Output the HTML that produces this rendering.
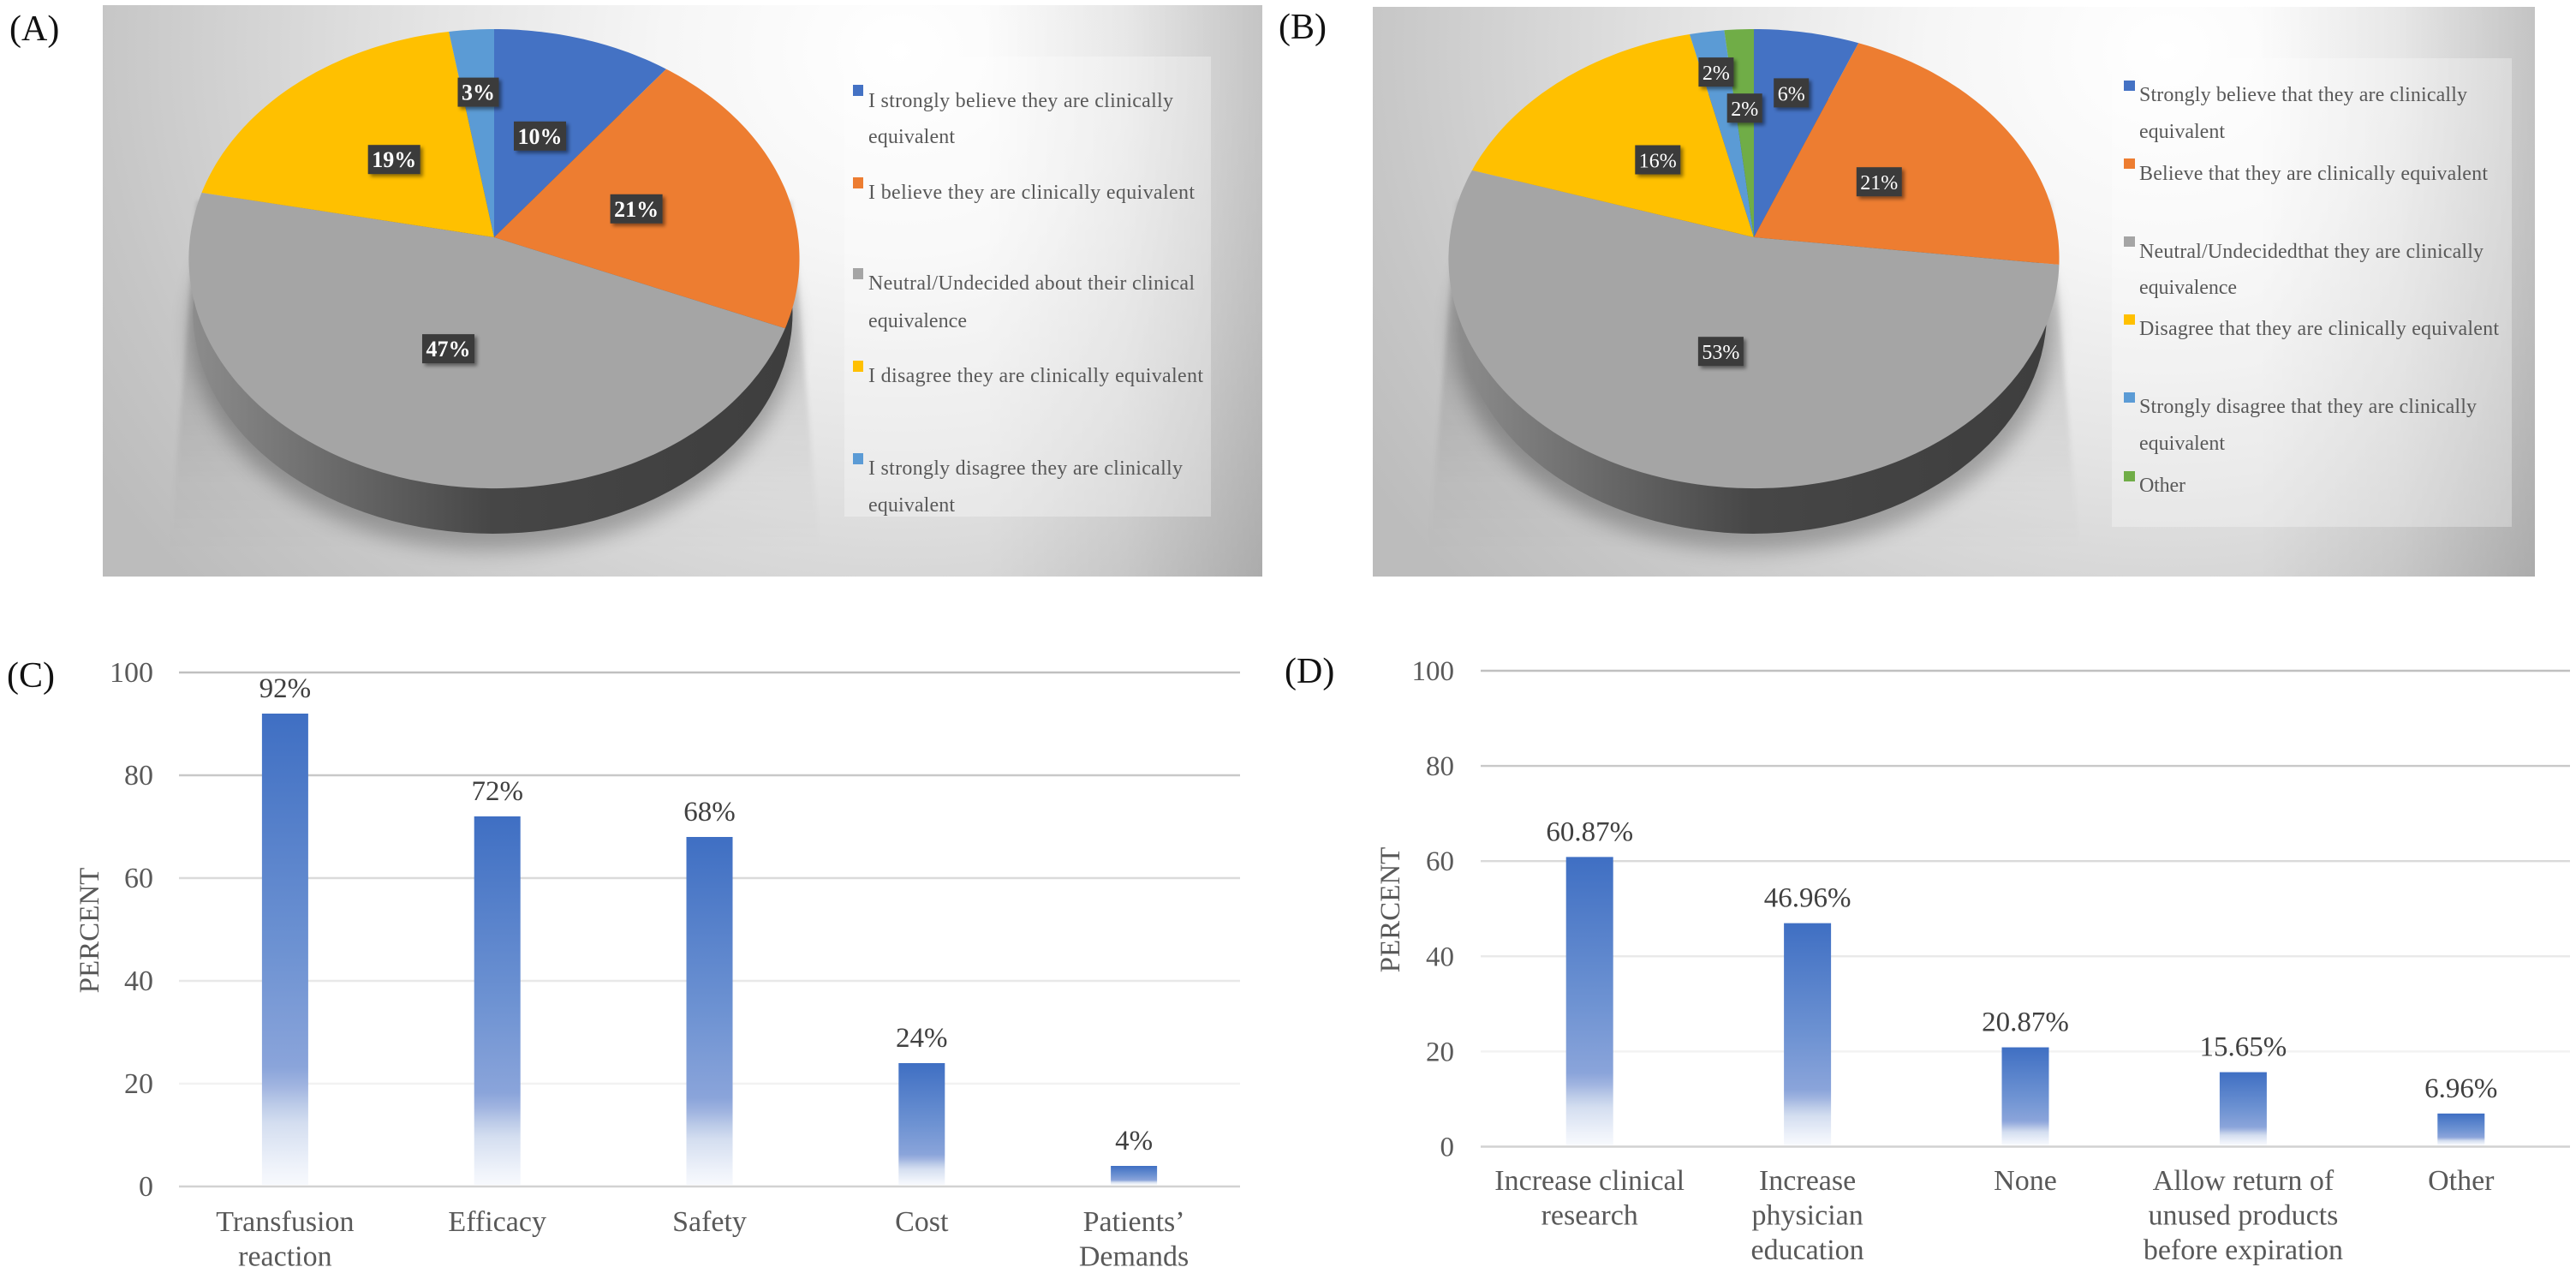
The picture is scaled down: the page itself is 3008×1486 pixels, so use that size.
<!DOCTYPE html>
<html>
<head>
<meta charset="utf-8">
<title>Survey charts</title>
<style>
html,body{margin:0;padding:0;background:#fff;}
svg{display:block;}
text{font-family:"Liberation Serif",serif;}
.legend-text{font-size:24px;fill:#595959;}
.panel-letter{font-size:42px;fill:#111;}
</style>
</head>
<body>
<svg id="chart" xmlns="http://www.w3.org/2000/svg" width="3008" height="1486" viewBox="0 0 3008 1486">
<defs>
  <radialGradient id="bg-a" gradientUnits="userSpaceOnUse" cx="0" cy="0" r="1" gradientTransform="translate(1050 60) scale(1100 950)">
    <stop offset="0" stop-color="#ffffff"/><stop offset="0.25" stop-color="#f6f6f6"/><stop offset="0.5" stop-color="#e4e4e4"/><stop offset="0.85" stop-color="#c6c6c6"/><stop offset="1" stop-color="#bcbcbc"/>
  </radialGradient>
  <radialGradient id="bg-b" gradientUnits="userSpaceOnUse" cx="0" cy="0" r="1" gradientTransform="translate(2530 60) scale(1100 950)">
    <stop offset="0" stop-color="#ffffff"/><stop offset="0.25" stop-color="#f6f6f6"/><stop offset="0.5" stop-color="#e4e4e4"/><stop offset="0.85" stop-color="#c6c6c6"/><stop offset="1" stop-color="#bcbcbc"/>
  </radialGradient>
  <linearGradient id="edge" x1="0" x2="1" y1="0" y2="0">
    <stop offset="0" stop-color="#000" stop-opacity="0"/><stop offset="0.5" stop-color="#000" stop-opacity="0.06"/><stop offset="1" stop-color="#000" stop-opacity="0.17"/>
  </linearGradient>
  <linearGradient id="side-shade" x1="0" x2="1" y1="0" y2="0">
    <stop offset="0" stop-color="#8c8c8c"/><stop offset="0.25" stop-color="#686868"/><stop offset="0.5" stop-color="#464646"/><stop offset="1" stop-color="#3e3e3e"/>
  </linearGradient>
  <linearGradient id="cast-shade" x1="0" x2="0" y1="0" y2="1">
    <stop offset="0" stop-color="#000" stop-opacity="0.18"/><stop offset="0.5" stop-color="#000" stop-opacity="0.11"/><stop offset="0.8" stop-color="#000" stop-opacity="0.03"/><stop offset="1" stop-color="#000" stop-opacity="0"/>
  </linearGradient>
  <linearGradient id="bar-fill" x1="0" x2="0" y1="0" y2="1">
    <stop offset="0" stop-color="#3f6fc3"/><stop offset="0.5" stop-color="#6d92d2"/><stop offset="0.75" stop-color="#8aa4da"/><stop offset="0.79" stop-color="#a0b4e0"/><stop offset="0.83" stop-color="#bccbe8"/><stop offset="0.87" stop-color="#d4def0"/><stop offset="0.96" stop-color="#eef2fa"/><stop offset="1" stop-color="#f7f9fd"/>
  </linearGradient>
  <filter id="soft" x="-20%" y="-20%" width="140%" height="140%"><feGaussianBlur stdDeviation="3"/></filter>
  <filter id="softer" x="-20%" y="-20%" width="140%" height="140%"><feGaussianBlur stdDeviation="12"/></filter>
  <filter id="box-shadow" x="-30%" y="-30%" width="170%" height="170%"><feDropShadow dx="3" dy="3" stdDeviation="2" flood-color="#000" flood-opacity="0.45"/></filter>
</defs>

<rect width="3008" height="1486" fill="#ffffff"/>

<g>
  <rect x="120" y="6" width="1354" height="667" fill="url(#bg-a)"/>
  <rect x="1150" y="6" width="324" height="667" fill="url(#edge)"/>
  <polygon points="230,235 924,235 957,643 198,643" fill="url(#cast-shade)" filter="url(#soft)"/>
  <ellipse cx="575" cy="385" rx="352" ry="258" fill="#000" opacity="0.26" filter="url(#softer)"/>
  <ellipse cx="575.5" cy="365" rx="350" ry="258" fill="url(#side-shade)"/>
  <g id="pie-a"></g>
  <rect x="986" y="66" width="428" height="537" fill="#ffffff" fill-opacity="0.3"/>
  <g>
    <rect x="996" y="99" width="12" height="13" fill="#4472c4"/>
    <text class="legend-text" x="1014" y="125" textLength="356">I strongly believe they are clinically</text>
    <text class="legend-text" x="1014" y="167" textLength="101">equivalent</text>
    <rect x="996" y="207" width="12" height="13" fill="#ed7d31"/>
    <text class="legend-text" x="1014" y="232" textLength="381">I believe they are clinically equivalent</text>
    <rect x="996" y="313" width="12" height="13" fill="#a5a5a5"/>
    <text class="legend-text" x="1014" y="338" textLength="381">Neutral/Undecided about their clinical</text>
    <text class="legend-text" x="1014" y="382" textLength="115">equivalence</text>
    <rect x="996" y="421" width="12" height="13" fill="#ffc000"/>
    <text class="legend-text" x="1014" y="446" textLength="391">I disagree they are clinically equivalent</text>
    <rect x="996" y="529" width="12" height="13" fill="#5b9bd5"/>
    <text class="legend-text" x="1014" y="554" textLength="367">I strongly disagree they are clinically</text>
    <text class="legend-text" x="1014" y="597" textLength="101">equivalent</text>
  </g>
</g>

<g>
  <rect x="1603" y="8" width="1357" height="665" fill="url(#bg-b)"/>
  <rect x="2636" y="8" width="324" height="665" fill="url(#edge)"/>
  <polygon points="1702,235 2394,235 2428,643 1668,643" fill="url(#cast-shade)" filter="url(#soft)"/>
  <ellipse cx="2047" cy="385" rx="350" ry="258" fill="#000" opacity="0.26" filter="url(#softer)"/>
  <ellipse cx="2047" cy="365" rx="343" ry="258" fill="url(#side-shade)"/>
  <g id="pie-b"></g>
  <rect x="2466" y="68" width="467" height="547" fill="#ffffff" fill-opacity="0.3"/>
  <g>
    <rect x="2480" y="94" width="13" height="12" fill="#4472c4"/>
    <text class="legend-text" x="2498" y="118" textLength="383">Strongly believe that they are clinically</text>
    <text class="legend-text" x="2498" y="161" textLength="100">equivalent</text>
    <rect x="2480" y="185" width="13" height="12" fill="#ed7d31"/>
    <text class="legend-text" x="2498" y="210" textLength="407">Believe that they are clinically equivalent</text>
    <rect x="2480" y="276" width="13" height="12" fill="#a5a5a5"/>
    <text class="legend-text" x="2498" y="301" textLength="402">Neutral/Undecidedthat they are clinically</text>
    <text class="legend-text" x="2498" y="343" textLength="114">equivalence</text>
    <rect x="2480" y="367" width="13" height="12" fill="#ffc000"/>
    <text class="legend-text" x="2498" y="391" textLength="420">Disagree that they are clinically equivalent</text>
    <rect x="2480" y="458" width="13" height="12" fill="#5b9bd5"/>
    <text class="legend-text" x="2498" y="482" textLength="394">Strongly disagree that they are clinically</text>
    <text class="legend-text" x="2498" y="525" textLength="100">equivalent</text>
    <rect x="2480" y="550" width="13" height="12" fill="#70ad47"/>
    <text class="legend-text" x="2498" y="574" textLength="54">Other</text>
  </g>
</g>

<g id="chart-c"></g>
<g id="chart-d"></g>

<text class="panel-letter" x="11" y="47">(A)</text>
<text class="panel-letter" x="1493" y="45">(B)</text>
<text class="panel-letter" x="8" y="802">(C)</text>
<text class="panel-letter" x="1500" y="797">(D)</text>
</svg>

<script>
// Pie A data
const pieACategories = ["I strongly believe", "I believe", "Neutral/Undecided", "I disagree", "I strongly disagree"];
const pieAValues = [10.4, 20.9, 46.9, 19.2, 2.6];
// Pie B data
const pieBCategories = ["Strongly believe", "Believe", "Neutral/Undecided", "Disagree", "Strongly disagree", "Other"];
const pieBValues = [6.1, 20.8, 53.0, 16.4, 2.0, 1.7];
// Bar chart C data
const barCCategories = [["Transfusion", "reaction"], ["Efficacy"], ["Safety"], ["Cost"], ["Patients\u2019", "Demands"]];
const barCValues = [92, 72, 68, 24, 4];
const barCTicks = [0, 20, 40, 60, 80, 100];
// Bar chart D data
const barDCategories = [["Increase clinical", "research"], ["Increase", "physician", "education"], ["None"], ["Allow return of", "unused products", "before expiration"], ["Other"]];
const barDValues = [60.87, 46.96, 20.87, 15.65, 6.96];
const barDTicks = [0, 20, 40, 60, 80, 100];

// Styling (not data)
const sliceColors = ["#4472c4", "#ed7d31", "#a5a5a5", "#ffc000", "#5b9bd5", "#70ad47"];
const SVGNS = "http://www.w3.org/2000/svg";

function make(tag, parent) {
  const el = document.createElementNS(SVGNS, tag);
  parent.appendChild(el);
  return el;
}
function slug(s) {
  return String(s).toLowerCase().replace(/[^a-z0-9]+/g, "-").replace(/^-|-$/g, "");
}

// Perspective projection of a pie plane onto the screen
function pieProjector(apexX, apexY, radius) {
  const k = 0.0934, H = 265.7;
  return function (frac, r) {
    const t = frac * 2 * Math.PI;
    const x = Math.sin(t) * r, y = Math.cos(t) * r;
    const w = 1 + k * y;
    return [apexX + radius * x / w, apexY - H * y / w];
  };
}

function drawPie(groupId, prefix, categories, values, project, labelRadii, labelSize, labelWeight) {
  const group = document.getElementById(groupId);
  const total = values.reduce(function (a, b) { return a + b; }, 0);
  const apex = project(0, 0);
  let cum = 0;
  values.forEach(function (v, i) {
    const start = cum / total, end = (cum + v) / total;
    let d = "M" + apex[0].toFixed(1) + " " + apex[1].toFixed(1);
    const steps = Math.max(2, Math.ceil((end - start) * 360));
    for (let s = 0; s <= steps; s++) {
      const p = project(start + (end - start) * s / steps, 1);
      d += "L" + p[0].toFixed(1) + " " + p[1].toFixed(1);
    }
    const path = make("path", group);
    path.setAttribute("d", d + "Z");
    path.setAttribute("fill", sliceColors[i]);
    
    
    cum += v;
  });
  cum = 0;
  values.forEach(function (v, i) {
    const mid = (cum + v / 2) / total;
    cum += v;
    const c = project(mid, labelRadii[i]);
    const box = make("rect", group);
    const txt = make("text", group);
    txt.textContent = Math.round(v) + "%";
    txt.setAttribute("x", c[0].toFixed(1));
    txt.setAttribute("y", (c[1] + 9).toFixed(1));
    txt.setAttribute("text-anchor", "middle");
    txt.setAttribute("font-size", labelSize);
    txt.setAttribute("font-weight", labelWeight);
    txt.setAttribute("fill", "#ffffff");
    
    
    const w = txt.getComputedTextLength() + 9;
    box.setAttribute("x", (c[0] - w / 2).toFixed(1));
    box.setAttribute("y", (c[1] - 17).toFixed(1));
    box.setAttribute("width", w.toFixed(1));
    box.setAttribute("height", 34);
    box.setAttribute("fill", "#3b3b3b");
    box.setAttribute("filter", "url(#box-shadow)");
    
    
  });
}

function drawBars(cfg) {
  const group = document.getElementById(cfg.id);
  const yScale = function (v) { return cfg.y0 - (cfg.y0 - cfg.y100) * v / 100; };
  const step = (cfg.x1 - cfg.x0) / cfg.categories.length;
  const xCenter = function (i) { return cfg.x0 + step * (i + 0.5); };

  cfg.ticks.forEach(function (t, i) {
    const line = make("line", group);
    line.setAttribute("x1", cfg.x0);
    line.setAttribute("x2", cfg.x1);
    line.setAttribute("y1", yScale(t));
    line.setAttribute("y2", yScale(t));
    line.setAttribute("stroke", cfg.gridShades[i]);
    line.setAttribute("stroke-width", 2.4);
    
    
    const lab = make("text", group);
    lab.textContent = t;
    lab.setAttribute("x", cfg.tickRight);
    lab.setAttribute("y", yScale(t) + 11);
    lab.setAttribute("text-anchor", "end");
    lab.setAttribute("font-size", cfg.tickSize);
    lab.setAttribute("fill", "#595959");
    
    
  });

  const title = make("text", group);
  title.textContent = "PERCENT";
  title.setAttribute("transform", "translate(" + cfg.titleX + " " + cfg.titleY + ") rotate(-90)");
  title.setAttribute("text-anchor", "middle");
  title.setAttribute("font-size", 33);
  title.setAttribute("fill", "#595959");
  
  

  cfg.values.forEach(function (v, i) {
    const name = slug(cfg.categories[i].join(" "));
    const bar = make("rect", group);
    bar.setAttribute("x", xCenter(i) - cfg.barWidth / 2);
    bar.setAttribute("y", yScale(v));
    bar.setAttribute("width", cfg.barWidth);
    bar.setAttribute("height", yScale(0) - yScale(v) - 2);
    bar.setAttribute("fill", "url(#bar-fill)");
    
    

    const val = make("text", group);
    val.textContent = cfg.format(v);
    val.setAttribute("x", xCenter(i));
    val.setAttribute("y", yScale(v) - 19);
    val.setAttribute("text-anchor", "middle");
    val.setAttribute("font-size", 33);
    val.setAttribute("fill", "#404040");
    
    

    cfg.categories[i].forEach(function (lineText, j) {
      const cat = make("text", group);
      cat.textContent = lineText;
      cat.setAttribute("x", xCenter(i));
      cat.setAttribute("y", cfg.catBaseline + j * 40.5);
      cat.setAttribute("text-anchor", "middle");
      cat.setAttribute("font-size", 34);
      cat.setAttribute("fill", "#595959");
      
      
    });
  });
}

drawPie("pie-a", "pie-a", pieACategories, pieAValues, pieProjector(577, 277, 355), [0.49, 0.49, 0.49, 0.49, 0.68], 26, "bold");
drawPie("pie-b", "pie-b", pieBCategories, pieBValues, pieProjector(2048, 277, 355), [0.687, 0.49, 0.49, 0.48, 0.79, 0.6], 24, "normal");

const gridShadesByTick = ["#d2d2d2", "#f2f2f2", "#e8e8e8", "#dadada", "#c8c8c8", "#c0c0c0"];

drawBars({
  id: "chart-c", prefix: "chart-c", categories: barCCategories, values: barCValues, ticks: barCTicks,
  x0: 209, x1: 1448, y0: 1385, y100: 785, barWidth: 54, tickRight: 179, tickSize: 34,
  titleX: 115, titleY: 1086, catBaseline: 1437, gridShades: gridShadesByTick,
  format: function (v) { return v + "%"; }
});
drawBars({
  id: "chart-d", prefix: "chart-d", categories: barDCategories, values: barDValues, ticks: barDTicks,
  x0: 1729, x1: 3001, y0: 1338.5, y100: 783, barWidth: 55, tickRight: 1698, tickSize: 33,
  titleX: 1634, titleY: 1062, catBaseline: 1389, gridShades: gridShadesByTick,
  format: function (v) { return v.toFixed(2) + "%"; }
});
</script>
</body>
</html>
